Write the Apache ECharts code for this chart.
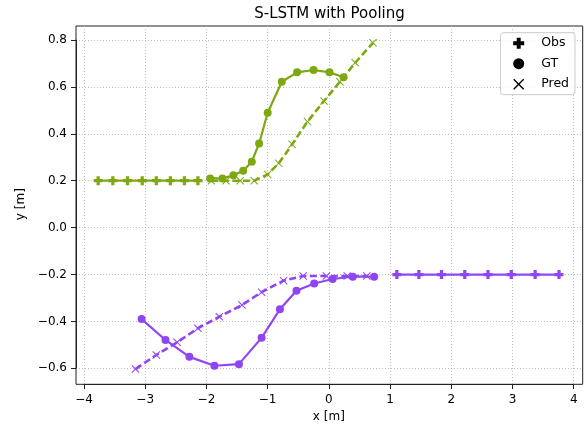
<!DOCTYPE html>
<html>
<head>
<meta charset="utf-8">
<script src="https://cdn.jsdelivr.net/npm/echarts@6/dist/echarts.min.js"></script>
<style>
  html, body { margin: 0; padding: 0; background: #fff; }
  #chart { width: 588px; height: 428px; }
</style>
</head>
<body>
<div id="chart"></div>
<script>
// ---- data ----
const greenObsX = [-3.77, -3.53, -3.29, -3.05, -2.82, -2.59, -2.36, -2.14];
const greenObsY = [0.20, 0.20, 0.20, 0.20, 0.20, 0.20, 0.20, 0.20];
const greenGtX = [-1.94, -1.74, -1.56, -1.40, -1.26, -1.14, -1.00, -0.77, -0.52, -0.25, 0.01, 0.24];
const greenGtY = [0.210, 0.210, 0.223, 0.243, 0.281, 0.359, 0.490, 0.622, 0.662, 0.672, 0.662, 0.641];
const greenPredX = [-1.92, -1.68, -1.45, -1.22, -1.00, -0.82, -0.60, -0.35, -0.08, 0.18, 0.43, 0.72];
const greenPredY = [0.200, 0.200, 0.200, 0.200, 0.227, 0.274, 0.355, 0.452, 0.540, 0.622, 0.703, 0.788];

const purpleObsX = [3.76, 3.37, 2.98, 2.60, 2.22, 1.84, 1.47, 1.11];
const purpleObsY = [-0.20, -0.20, -0.20, -0.20, -0.20, -0.20, -0.20, -0.20];
const purpleGtX = [-3.06, -2.67, -2.28, -1.87, -1.47, -1.10, -0.80, -0.53, -0.24, 0.06, 0.39, 0.74];
const purpleGtY = [-0.390, -0.479, -0.551, -0.589, -0.582, -0.470, -0.348, -0.269, -0.238, -0.219, -0.209, -0.209];
const purplePredX = [-3.16, -2.82, -2.48, -2.14, -1.79, -1.42, -1.10, -0.74, -0.42, -0.04, 0.30, 0.62];
const purplePredY = [-0.603, -0.543, -0.489, -0.429, -0.380, -0.330, -0.275, -0.226, -0.206, -0.206, -0.206, -0.206];

const xTickValues = [-4, -3, -2, -1, 0, 1, 2, 3, 4];
const yTickValues = [-0.6, -0.4, -0.2, 0.0, 0.2, 0.4, 0.6, 0.8];
const legendNames = ['Obs', 'GT', 'Pred'];
const titleText = 'S-LSTM with Pooling';
const xName = 'x [m]';
const yName = 'y [m]';

// ---- styling ----
const GREEN = '#7ea812';
const PURPLE = '#9045f5';
const FONT = 'DejaVu Sans';
const PLUS = 'path://M3.2,0 H6.8 V3.2 H10 V6.8 H6.8 V10 H3.2 V6.8 H0 V3.2 H3.2 Z';
const XMARK = 'path://M0,0.9 L0.9,0 L5,4.1 L9.1,0 L10,0.9 L5.9,5 L10,9.1 L9.1,10 L5,5.9 L0.9,10 L0,9.1 L4.1,5 Z';

function zip(xs, ys) { return xs.map((x, i) => [x, ys[i]]); }
function fmtMinus(s) { return String(s).replace('-', '\u2212'); }

function obsSeries(name, xs, ys, color) {
  return { name: name, type: 'line', xAxisIndex: 0, yAxisIndex: 0, data: zip(xs, ys),
    symbol: PLUS, symbolSize: 9, lineStyle: { color: color, width: 2.3 },
    itemStyle: { color: color }, z: 3 };
}
function gtSeries(name, xs, ys, color) {
  return { name: name, type: 'line', xAxisIndex: 0, yAxisIndex: 0, data: zip(xs, ys),
    symbol: 'circle', symbolSize: 8, lineStyle: { color: color, width: 2.2 },
    itemStyle: { color: color }, z: 3 };
}
function predSeries(name, xs, ys, color) {
  return { name: name, type: 'line', xAxisIndex: 0, yAxisIndex: 0, data: zip(xs, ys),
    symbol: XMARK, symbolSize: 8, lineStyle: { color: color, width: 2.6, type: [7, 3.5] },
    itemStyle: { color: color }, z: 4 };
}

const chart = echarts.init(document.getElementById('chart'), null, { renderer: 'canvas' });

const option = {
  animation: false,
  backgroundColor: '#fff',
  textStyle: { fontFamily: FONT },
  graphic: [{
    type: 'text', x: 329.5, y: 14,
    style: { text: titleText, font: '15px "DejaVu Sans"', fill: '#000', textAlign: 'center', textVerticalAlign: 'middle' }
  }],
  grid: [
    { left: 76, right: 5.3, top: 26, bottom: 43.7, show: true, borderColor: '#222', borderWidth: 1, backgroundColor: 'transparent' },
    { left: 84, right: 14.3, top: 26, bottom: 43.7 },
    { left: 76, right: 5.3, top: 40, bottom: 59.7 }
  ],
  xAxis: [
    { type: 'value', gridIndex: 0, min: -4.132, max: 4.147, show: false },
    { type: 'value', gridIndex: 1, min: xTickValues[0], max: xTickValues[xTickValues.length - 1],
      interval: xTickValues[1] - xTickValues[0],
      axisLine: { show: true, lineStyle: { color: '#222', width: 1 } },
      axisTick: { show: true, length: 5, lineStyle: { color: '#222', width: 1 } },
      axisLabel: { margin: 10, color: '#000', fontSize: 12, fontFamily: FONT, formatter: v => fmtMinus(v) },
      splitLine: { show: true, lineStyle: { color: '#b0b0b0', width: 0.8, type: [1, 2] } },
      name: xName, nameLocation: 'middle', nameGap: 26,
      nameTextStyle: { color: '#000', fontSize: 12, fontFamily: FONT } },
    { type: 'value', gridIndex: 2, min: 0, max: 1, show: false }
  ],
  yAxis: [
    { type: 'value', gridIndex: 0, min: -0.668, max: 0.8597, show: false },
    { type: 'value', gridIndex: 1, min: 0, max: 1, show: false },
    { type: 'value', gridIndex: 2, min: yTickValues[0], max: yTickValues[yTickValues.length - 1],
      interval: 0.2,
      axisLine: { show: true, lineStyle: { color: '#222', width: 1 } },
      axisTick: { show: true, length: 5, lineStyle: { color: '#222', width: 1 } },
      axisLabel: { margin: 9, color: '#000', fontSize: 12, fontFamily: FONT, formatter: v => fmtMinus(v.toFixed(1)) },
      splitLine: { show: true, lineStyle: { color: '#b0b0b0', width: 0.8, type: [1, 2] } },
      name: yName, nameLocation: 'middle', nameGap: 45,
      nameTextStyle: { color: '#000', fontSize: 12, fontFamily: FONT } }
  ],
  legend: {
    orient: 'vertical', right: 13, top: 32.7,
    selectedMode: false,
    backgroundColor: 'rgba(255,255,255,0.85)', borderColor: '#cccccc', borderWidth: 1, borderRadius: 3,
    padding: [4, 6, 4, 12.7],
    itemWidth: 11, itemHeight: 11, itemGap: 7.5,
    textStyle: { fontSize: 12.5, fontFamily: FONT, color: '#000', padding: [0, 0, 0, 12] },
    data: [
      { name: legendNames[0], icon: PLUS },
      { name: legendNames[1], icon: 'circle' },
      { name: legendNames[2], icon: XMARK }
    ]
  },
  series: [
    obsSeries('greenObs', greenObsX, greenObsY, GREEN),
    gtSeries('greenGT', greenGtX, greenGtY, GREEN),
    predSeries('greenPred', greenPredX, greenPredY, GREEN),
    obsSeries('purpleObs', purpleObsX, purpleObsY, PURPLE),
    gtSeries('purpleGT', purpleGtX, purpleGtY, PURPLE),
    predSeries('purplePred', purplePredX, purplePredY, PURPLE),
    { name: legendNames[0], type: 'line', data: [], itemStyle: { color: '#000' }, lineStyle: { color: '#000' } },
    { name: legendNames[1], type: 'line', data: [], itemStyle: { color: '#000' }, lineStyle: { color: '#000' } },
    { name: legendNames[2], type: 'line', data: [], itemStyle: { color: '#000' }, lineStyle: { color: '#000' } }
  ]
};
chart.setOption(option);
</script>
</body>
</html>
